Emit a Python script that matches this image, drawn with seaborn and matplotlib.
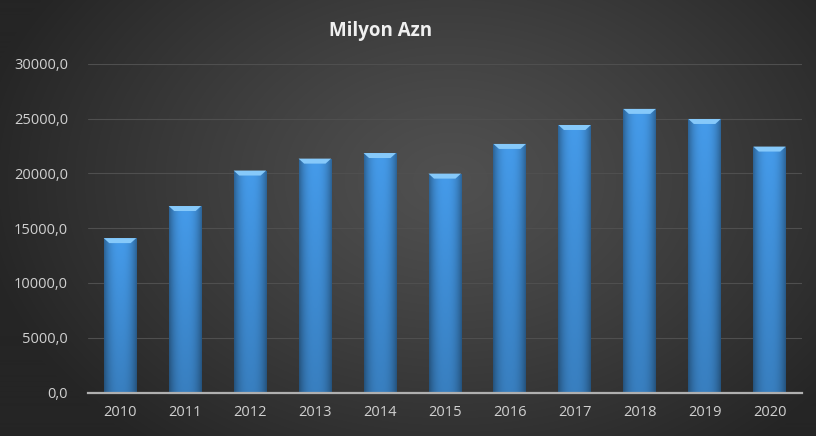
import numpy as np
import matplotlib
matplotlib.use("Agg")
import matplotlib.pyplot as plt
import seaborn as sns
from matplotlib.ticker import FuncFormatter, MultipleLocator
from matplotlib.patches import Polygon

years = ["2010", "2011", "2012", "2013", "2014", "2015", "2016", "2017", "2018", "2019", "2020"]
values = [14100, 17030, 20270, 21360, 21870, 19990, 22700, 24430, 25900, 24980, 22460]
title = "Milyon Azn"

sns.set_theme(style="dark")
plt.rcParams['font.family'] = ['Open Sans', 'DejaVu Sans']

W, H = 816, 436
fig = plt.figure(figsize=(W / 100, H / 100), dpi=100)

# radial background
yy, xx = np.mgrid[0:H, 0:W]
cx, cy = 450, 180
r = np.sqrt(((xx - cx) / 480.0) ** 2 + ((yy - cy) / 340.0) ** 2)
r = np.clip(r, 0, 1)
c_center, c_edge = 0x50 / 255, 0x25 / 255
val = c_center - (c_center - c_edge) * r ** 1.2
img = np.dstack([val, val, val])
bg = fig.add_axes([0, 0, 1, 1], zorder=-10)
bg.imshow(img, aspect="auto", extent=[0, 1, 0, 1], origin="upper")
bg.axis("off")

ax = fig.add_axes([87.5 / W, 1 - 392.5 / H, (802 - 87.5) / W, (392.5 - 64) / H])
ax.patch.set_alpha(0)

sns.barplot(x=years, y=values, color="#3f93e0", width=0.5, ax=ax, saturation=1,
            linewidth=0, edgecolor="none", zorder=3)

ax.set_ylim(0, 30000)
ax.set_xlim(-0.5, len(years) - 0.5)
ax.yaxis.set_major_locator(MultipleLocator(5000))
ax.yaxis.set_major_formatter(FuncFormatter(lambda v, p: f"{v:.1f}".replace(".", ",")))
ax.grid(axis="y", color="#4f4f4f", linewidth=0.8, zorder=0)
ax.grid(axis="x", visible=False)
for s in ["top", "right", "left"]:
    ax.spines[s].set_visible(False)
ax.spines["bottom"].set_color("#b0b0b0")
ax.spines["bottom"].set_linewidth(1.6)
ax.spines["bottom"].set_zorder(6)
ax.tick_params(axis="both", length=0, colors="#d0d0d0", labelsize=10.5)
ax.tick_params(axis="y", pad=14)
ax.tick_params(axis="x", pad=9)
ax.set_xlabel("")
ax.set_ylabel("")

# gradient shading on bars (horizontal + vertical)
nx, ny = 48, 64
hx = np.linspace(-1, 1, nx)
horiz = 1 - 0.35 * np.abs(hx) ** 2.5
vert = np.linspace(0.82, 1.0, ny)[:, None]  # bottom darker (origin lower)
base = np.array([0x45, 0x9b, 0xea]) / 255
shade = horiz[None, :] * vert
bar_img = np.clip(base[None, None, :] * shade[:, :, None], 0, 1)

px_y = 30000 / (392.5 - 64)
for p in list(ax.patches):
    x0, w, h = p.get_x(), p.get_width(), p.get_height()
    im = ax.imshow(bar_img, aspect="auto", extent=[x0, x0 + w, 0, h], origin="lower", zorder=4)
    im.set_clip_path(p)
    bev = 5.0 * px_y
    inset = w * 0.17
    top = Polygon([[x0, h], [x0 + w, h], [x0 + w - inset, h - bev], [x0 + inset, h - bev]],
                  closed=True, facecolor="#86c9fa", edgecolor="none", zorder=5)
    ax.add_patch(top)
ax.set_xlim(-0.5, len(years) - 0.5)
ax.set_ylim(0, 30000)

fig.text(381 / W, 1 - 31 / H, title, ha="center", va="center", color="#f0f0f0",
         fontsize=13.5, fontweight="bold")

fig.savefig("out.png", dpi=100)
